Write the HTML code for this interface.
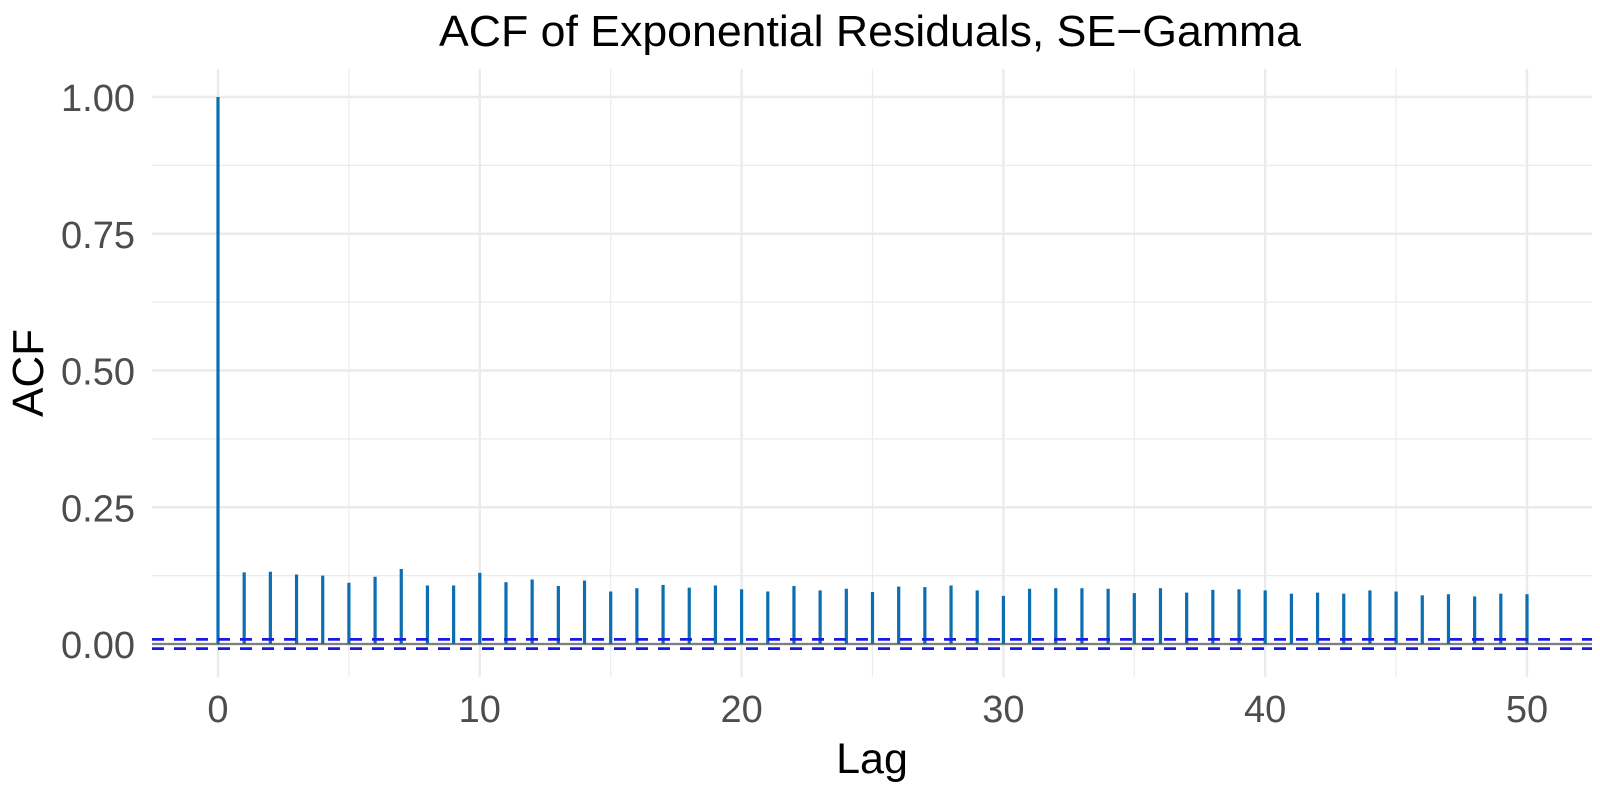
<!DOCTYPE html>
<html><head><meta charset="utf-8"><style>
body{margin:0;background:#fff;}
svg{display:block;font-family:"Liberation Sans",sans-serif;}
</style></head><body>
<svg id="chart" width="1600" height="793" viewBox="0 0 1600 793">
<rect width="1600" height="793" fill="#fff"/>
<g id="grid"></g>
<g id="marks"></g>
<g id="axes"></g>
<text x="870" y="46" text-anchor="middle" font-size="44" fill="#000" textLength="862" lengthAdjust="spacingAndGlyphs">ACF of Exponential Residuals, SE−Gamma</text>
<text x="872" y="773" text-anchor="middle" font-size="43" fill="#000">Lag</text>
<text transform="translate(43,373) rotate(-90)" text-anchor="middle" font-size="44" fill="#000">ACF</text>
</svg>
<script>
const lags=[0,1,2,3,4,5,6,7,8,9,10,11,12,13,14,15,16,17,18,19,20,21,22,23,24,25,26,27,28,29,30,31,32,33,34,35,36,37,38,39,40,41,42,43,44,45,46,47,48,49,50];
const acfValues=[1.0,0.131,0.132,0.127,0.125,0.112,0.123,0.137,0.107,0.107,0.130,0.113,0.118,0.106,0.116,0.096,0.102,0.108,0.103,0.107,0.100,0.096,0.106,0.098,0.101,0.095,0.105,0.104,0.107,0.098,0.088,0.101,0.102,0.102,0.101,0.093,0.102,0.094,0.099,0.100,0.098,0.092,0.094,0.092,0.098,0.096,0.089,0.091,0.087,0.092,0.091];
const ciBound=[0.0085];
const yTicks=[0,0.25,0.5,0.75,1.0];
const yTickLabels=["0.00","0.25","0.50","0.75","1.00"];
const xTicks=[0,10,20,30,40,50];

const NS="http://www.w3.org/2000/svg";
const X=v=>218+v*26.18;
const Y=v=>644-v*547;
const L=152,R=1592,T=69,B=677;
function mk(tag,attrs,parent){const e=document.createElementNS(NS,tag);for(const k in attrs)e.setAttribute(k,attrs[k]);document.getElementById(parent).appendChild(e);return e;}

for(let k=0;k<=8;k++){
  const v=k*0.125;
  const major=k%2===0;
  const g=mk('line',{x1:L,x2:R,y1:Y(v),y2:Y(v),stroke:'#ebebeb','stroke-width':major?2.4:1.2},'grid');
  
  
}
for(let v=0;v<=50;v+=5){
  const major=v%10===0;
  const g=mk('line',{x1:X(v),x2:X(v),y1:T,y2:B,stroke:'#ebebeb','stroke-width':major?2.4:1.2},'grid');
  
  
}
const z=mk('line',{x1:L,x2:R,y1:Y(0),y2:Y(0),stroke:'#7f7f7f','stroke-width':2.2},'marks');


lags.forEach((l,i)=>{
  const b=mk('line',{x1:X(l),x2:X(l),y1:Y(0),y2:Y(acfValues[i]),stroke:'#0a6eb0','stroke-width':3.2},'marks');
  
  
});
[ciBound[0],-ciBound[0]].forEach((c,i)=>{
  const d=mk('line',{x1:L,x2:R,y1:Y(c),y2:Y(c),stroke:'#1a1ae0','stroke-width':2.8,'stroke-dasharray':'12 10'},'marks');
  
  
});
yTicks.forEach((v,i)=>{
  const t=mk('text',{x:135,y:Y(v)+14,'text-anchor':'end','font-size':38,fill:'#4d4d4d'},'axes');
  t.textContent=yTickLabels[i];
  
  
});
xTicks.forEach(v=>{
  const t=mk('text',{x:X(v),y:722,'text-anchor':'middle','font-size':38,fill:'#4d4d4d'},'axes');
  t.textContent=String(v);
  
  
});
</script>
</body></html>
